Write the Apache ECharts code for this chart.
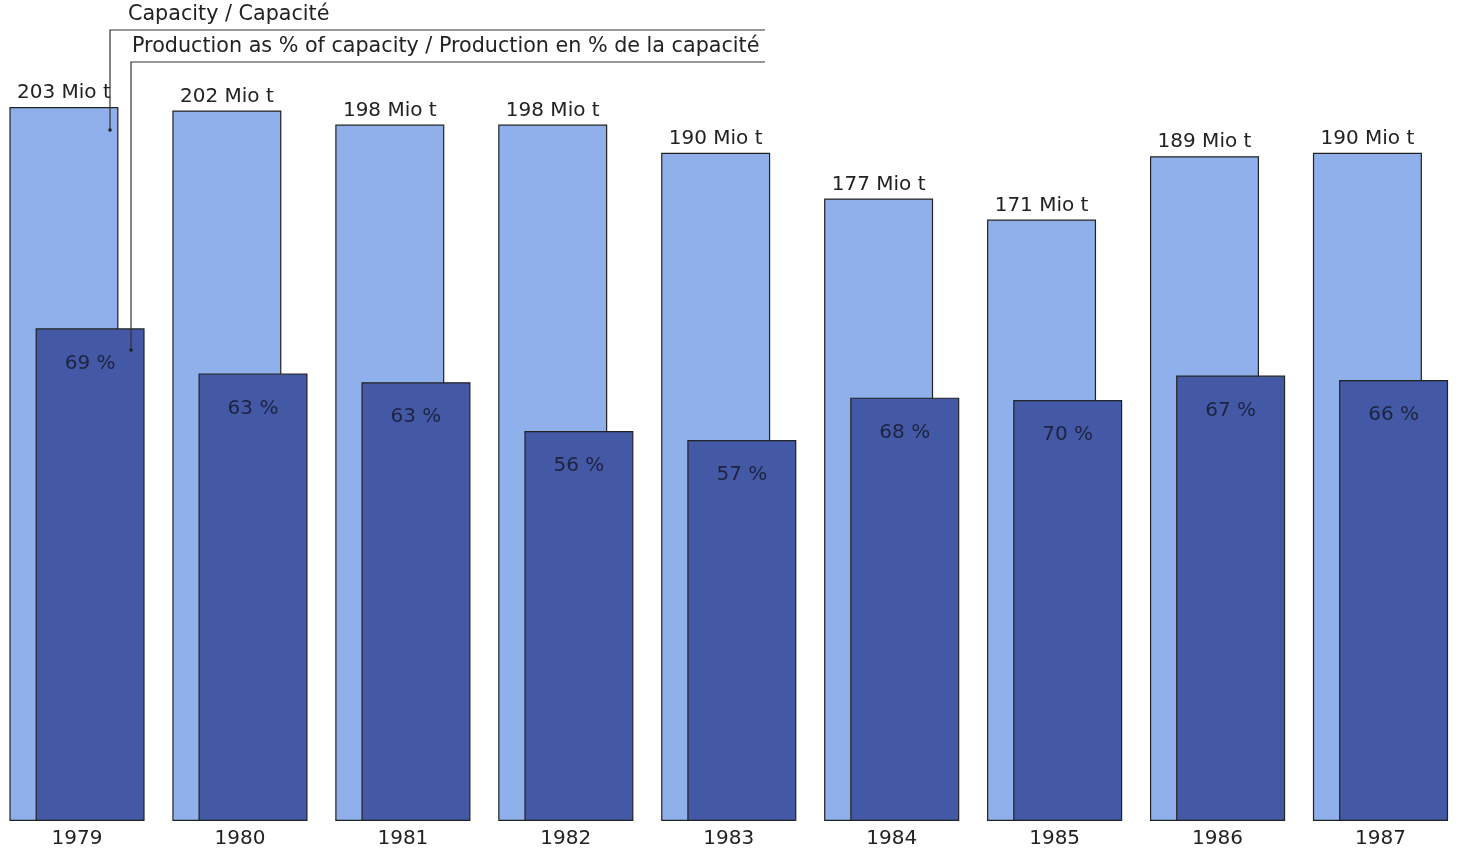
<!DOCTYPE html>
<html>
<head>
<meta charset="utf-8">
<script src="https://cdn.jsdelivr.net/npm/echarts@6/dist/echarts.min.js"></script>
<style>html,body{margin:0;padding:0;background:#fff}#c{width:1458px;height:854px}</style>
</head>
<body>
<div id="c"></div>
<script>
const years = ['1979','1980','1981','1982','1983','1984','1985','1986','1987'];
const capacity = [203, 202, 198, 198, 190, 177, 171, 189, 190];
const productionPct = [69, 63, 63, 56, 57, 68, 70, 67, 66];
const capacityLegend = 'Capacity / Capacité';
const productionLegend = 'Production as % of capacity / Production en % de la capacité';

const production = capacity.map((c, i) => c * productionPct[i] / 100);
const FONT = '"DejaVu Sans", "Liberation Sans", Arial, sans-serif';

const chart = echarts.init(document.getElementById('c'));
chart.setOption({
  backgroundColor: '#ffffff',
  animation: false,
  grid: { left: 77, right: 77.5, top: 107, bottom: 33 },
  xAxis: {
    type: 'category', data: years, boundaryGap: false,
    axisLine: { show: false }, axisTick: { show: false },
    axisLabel: { fontFamily: FONT, fontSize: 20, color: '#222', margin: 8 }
  },
  yAxis: { type: 'value', min: 0, max: 203, show: false },
  series: [
    {
      name: capacityLegend, type: 'bar', data: capacity,
      barWidth: 109, barGap: '-76%',
      itemStyle: { color: '#90b0eb', borderColor: '#222', borderWidth: 1.2 },
      label: {
        show: true, position: 'top', distance: 4,
        formatter: p => p.value + ' Mio t',
        fontFamily: FONT, fontSize: 20, color: '#222'
      }
    },
    {
      name: productionLegend, type: 'bar', data: production,
      barWidth: 109,
      itemStyle: { color: '#4459a6', borderColor: '#222', borderWidth: 1.2 },
      label: {
        show: true, position: 'insideTop', distance: 25,
        formatter: p => productionPct[p.dataIndex] + ' %',
        fontFamily: FONT, fontSize: 20, color: '#1e2340'
      }
    }
  ],
  graphic: [
    { type: 'text', left: 128, top: 4, style: { text: capacityLegend, font: '20.7px ' + FONT, fill: '#222' } },
    { type: 'text', left: 132, top: 36, style: { text: productionLegend, font: '20.7px ' + FONT, fill: '#222' } },
    { type: 'polyline', shape: { points: [[765, 30], [110, 30], [110, 130]] }, style: { stroke: '#333', lineWidth: 1.2, fill: null }, z: 100 },
    { type: 'polyline', shape: { points: [[765, 62], [131, 62], [131, 350]] }, style: { stroke: '#333', lineWidth: 1.2, fill: null }, z: 100 },
    { type: 'circle', shape: { cx: 110, cy: 130, r: 1.8 }, style: { fill: '#222' }, z: 100 },
    { type: 'circle', shape: { cx: 131, cy: 350, r: 1.8 }, style: { fill: '#222' }, z: 100 }
  ]
});
</script>
</body>
</html>
